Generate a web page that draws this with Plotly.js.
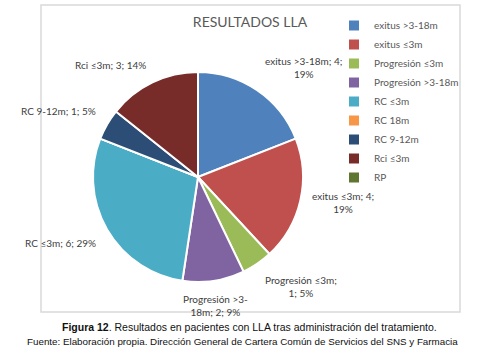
<!DOCTYPE html>
<html>
<head>
<meta charset="utf-8">
<script src="https://cdn.plot.ly/plotly-3.0.1.min.js"></script>
<style>html,body{margin:0;padding:0;background:#fff;}#chart{width:487px;height:357px;}</style>
</head>
<body>
<div id="chart"></div>
<script>
const categories = ['exitus >3-18m','exitus ≤3m','Progresión ≤3m','Progresión >3-18m','RC ≤3m','RC 18m','RC 9-12m','Rci ≤3m','RP'];
const values = [4, 4, 1, 2, 6, 0, 1, 3, 0];
const colors = ['#4F81BD','#C0504D','#9BBB59','#8064A2','#4BACC6','#F79646','#2C4D75','#772C2A','#5F7530'];
const chartTitle = 'RESULTADOS LLA';
const captionBold = 'Figura 12';
const captionRest = '. Resultados en pacientes con LLA tras administración del tratamiento.';
const sourceLine = 'Fuente: Elaboración propia. Dirección General de Cartera Común de Servicios del SNS y Farmacia';

const W = 487, H = 357;
const CX = 198, CY = 177, R = 105;
const px = x => x / W;
const py = y => 1 - y / H;

// Excel-style percentages (largest remainder, summing to 100)
const total = values.reduce((a, b) => a + b, 0);
const raw = values.map(v => v / total * 100);
const pct = raw.map(Math.floor);
let rest = 100 - pct.reduce((a, b) => a + b, 0);
raw.map((r, i) => [r - Math.floor(r), i]).sort((a, b) => b[0] - a[0]).slice(0, rest).forEach(([_, i]) => pct[i]++);

function wrap(s, maxChars) {
  const lines = [];
  let cur = '';
  const tokens = s.match(/[^ \-]+[ \-]?/g);
  tokens.forEach(t => {
    if ((cur + t).trimEnd().length > maxChars && cur) { lines.push(cur.trimEnd()); cur = t; }
    else cur += t;
  });
  if (cur) lines.push(cur.trimEnd());
  return lines.join('<br>');
}

const annotations = [];
let cum = 0;
values.forEach((v, i) => {
  if (v > 0) {
    const frac = (cum + v / 2) / total;
    const th = 2 * Math.PI * frac;
    const s = Math.sin(th), c = -Math.cos(th);
    const d = R + 10;
    const x = CX + d * s, y = CY + d * c;
    annotations.push({
      xref: 'paper', yref: 'paper', x: px(x), y: py(y),
      text: wrap(categories[i] + '; ' + v + '; ' + pct[i] + '%', 17),
      showarrow: false,
      xanchor: s > 0.3 ? 'left' : (s < -0.3 ? 'right' : 'center'),
      yanchor: c < -0.3 ? 'bottom' : (c > 0.3 ? 'top' : 'middle'),
      align: 'center',
      font: {family: 'Lato, "Open Sans", sans-serif', size: 10, color: '#404040'}
    });
  }
  cum += v;
});

annotations.push({
  xref: 'paper', yref: 'paper', x: px(249), y: py(327), xanchor: 'center', yanchor: 'middle', showarrow: false,
  text: '<b>' + captionBold + '</b>' + captionRest,
  font: {family: '"Liberation Sans", Arial, sans-serif', size: 10.5, color: '#111'}
});
annotations.push({
  xref: 'paper', yref: 'paper', x: px(242), y: py(341), xanchor: 'center', yanchor: 'middle', showarrow: false,
  text: sourceLine,
  font: {family: '"Liberation Sans", Arial, sans-serif', size: 9.8, color: '#111'}
});

const trace = {
  type: 'pie',
  labels: categories,
  values: values,
  sort: false,
  direction: 'clockwise',
  rotation: 0,
  textinfo: 'none',
  hoverinfo: 'label+value+percent',
  marker: {colors: colors, line: {color: '#ffffff', width: 2}},
  domain: {x: [px(CX - R), px(CX + R)], y: [py(CY + R), py(CY - R)]}
};

const layout = {
  width: W, height: H,
  margin: {l: 0, r: 0, t: 0, b: 0},
  paper_bgcolor: '#ffffff',
  title: {text: chartTitle, x: px(250), y: py(22), xanchor: 'center', yanchor: 'middle',
          font: {family: 'Lato, "Open Sans", sans-serif', size: 14, color: '#595959'}},
  showlegend: true,
  legend: {x: px(334), y: py(11), xanchor: 'left', yanchor: 'top',
           font: {family: 'Lato, "Open Sans", sans-serif', size: 10, color: '#595959'},
           bgcolor: 'rgba(0,0,0,0)', traceorder: 'normal'},
  shapes: [{type: 'rect', xref: 'paper', yref: 'paper', x0: px(41), x1: px(460), y0: py(312), y1: py(5),
            line: {color: '#d9d9d9', width: 1.5}, fillcolor: 'rgba(0,0,0,0)'}],
  annotations: annotations
};

Plotly.newPlot('chart', [trace], layout, {displayModeBar: false, staticPlot: true});
</script>
</body>
</html>
